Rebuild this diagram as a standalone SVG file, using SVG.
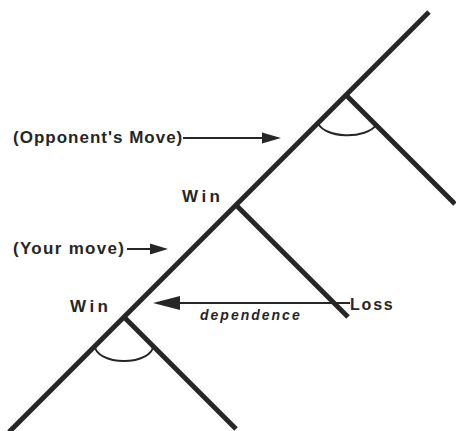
<svg xmlns="http://www.w3.org/2000/svg" width="456" height="431" viewBox="0 0 456 431">
<defs>
<style>
.tree{stroke:#262626;stroke-width:5;stroke-linecap:butt;fill:none}
.arc{stroke:#262626;stroke-width:2;fill:none}
.conn{stroke:#262626;stroke-width:2;fill:none}
.head{fill:#262626}
.lbl{font-family:"Liberation Sans",Arial,sans-serif;font-weight:bold;fill:#262626}
</style>
</defs>
<rect width="456" height="431" fill="#ffffff"/>
<g id="tree">
<line class="tree" x1="429" y1="12" x2="9" y2="432"/>
<line class="tree" x1="346" y1="95" x2="455" y2="204"/>
<line class="tree" x1="236" y1="205" x2="348" y2="317"/>
<line class="tree" x1="124" y1="317" x2="236" y2="429"/>
<path class="arc" d="M318,123 A30,15 0 0 0 376,125"/>
<path class="arc" d="M95,346 A29,15 0 0 0 153,346"/>
</g>
<g id="node-opponent">
<text class="lbl" x="13" y="143" font-size="17" letter-spacing="1">(Opponent's Move)</text>
</g>
<g id="node-your">
<text class="lbl" x="13" y="254" font-size="17" letter-spacing="1.3">(Your move)</text>
</g>
<g id="node-win1">
<text class="lbl" x="182" y="202" font-size="17" letter-spacing="3.5">Win</text>
</g>
<g id="node-win2">
<text class="lbl" x="70" y="312" font-size="17" letter-spacing="3.5">Win</text>
</g>
<g id="node-loss">
<text class="lbl" x="350" y="310" font-size="16" letter-spacing="1.8">Loss</text>
</g>
<g id="connectors">
<line class="conn" x1="183" y1="138" x2="264" y2="138"/>
<polygon class="head" points="281,138 262,132.5 262,143.5"/>
<line class="conn" x1="127" y1="249" x2="152" y2="249"/>
<polygon class="head" points="168,249 150,243.5 150,254.5"/>
<line class="conn" x1="350" y1="303" x2="178" y2="303"/>
<polygon class="head" points="153,303 180,296 180,310"/>
<text class="lbl" x="200" y="320" font-size="14" font-style="italic" letter-spacing="2">dependence</text>
</g>
</svg>
